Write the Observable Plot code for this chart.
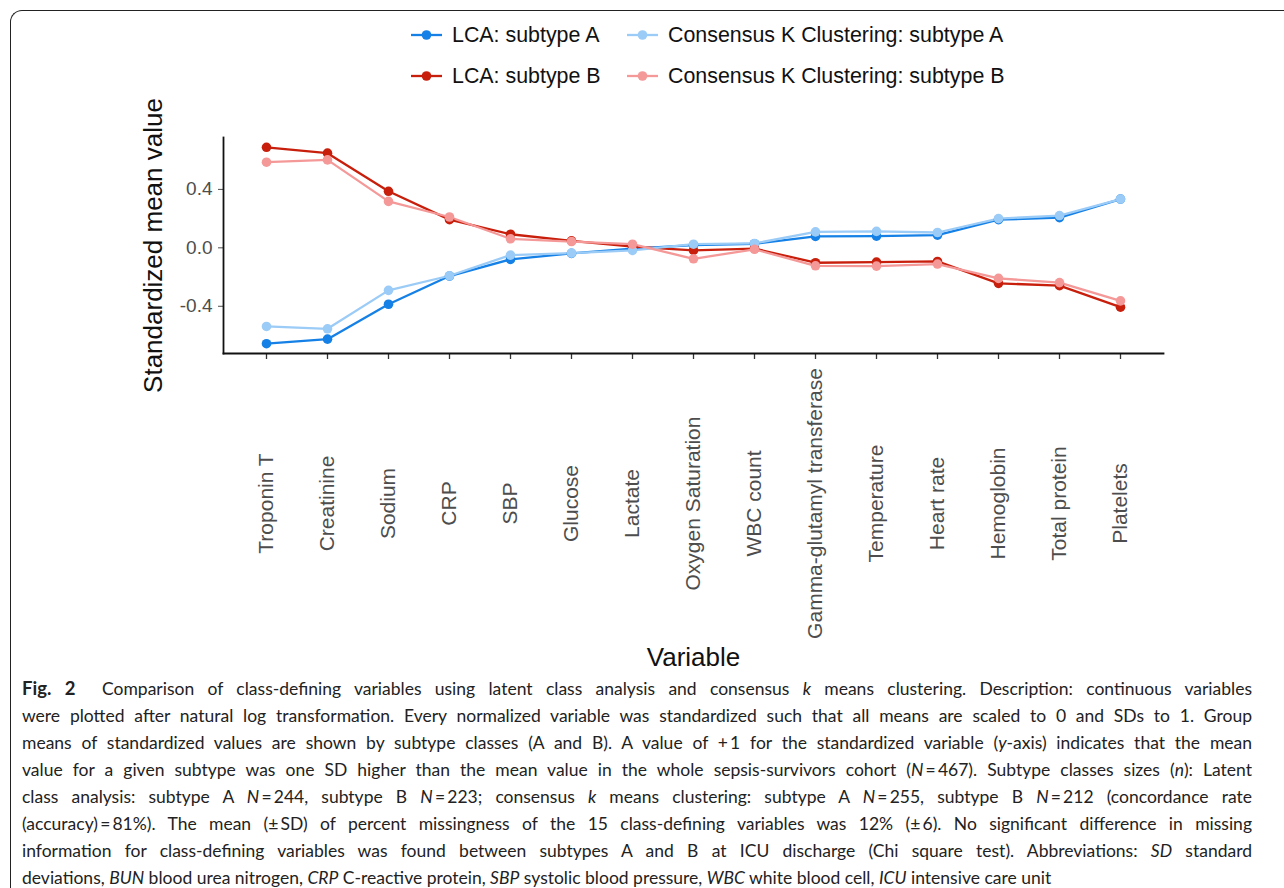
<!DOCTYPE html>
<html>
<head>
<meta charset="utf-8">
<script src="https://cdn.jsdelivr.net/npm/d3@7"></script>
<script src="https://cdn.jsdelivr.net/npm/@observablehq/plot@0.6"></script>
<style>
  html, body { margin: 0; padding: 0; background: #fff; }
  body { width: 1284px; height: 888px; position: relative; overflow: hidden; }
  #frame { position: absolute; left: 10px; top: 10px; width: 1400px; height: 1000px;
           border-left: 1.6px solid #222; border-top: 1.6px solid #222; border-top-left-radius: 12px; }
  #legend { position: absolute; left: 0; top: 0; width: 1284px; height: 100px;
            font-family: "Liberation Sans", Arial, sans-serif; font-size: 21.4px; color: #111; }
  .litem { position: absolute; display: flex; align-items: center; height: 26px; white-space: nowrap; }
  .litem svg { margin-right: 10px; }
  #chart { position: absolute; left: 0; top: 100px; }
  #caption { position: absolute; left: 22px; top: 675px; width: 1230px;
             font-family: Lato, "Open Sans", sans-serif; font-size: 17.5px; color: #222; }
  #caption div { height: 27px; line-height: 27px; text-align: justify; text-align-last: justify; white-space: nowrap; }
  #caption div.last { text-align-last: left; }
  #caption b { font-weight: 700; font-size: 18.5px; }
</style>
</head>
<body>
<div id="frame"></div>
<div id="legend"></div>
<div id="chart"></div>
<div id="caption">
  <div><b>Fig. 2</b>&nbsp; Comparison of class-defining variables using latent class analysis and consensus <i>k</i> means clustering. Description: continuous variables</div>
  <div>were plotted after natural log transformation. Every normalized variable was standardized such that all means are scaled to 0 and SDs to 1. Group</div>
  <div>means of standardized values are shown by subtype classes (A and B). A value of +&#8201;1 for the standardized variable (<i>y</i>-axis) indicates that the mean</div>
  <div>value for a given subtype was one SD higher than the mean value in the whole sepsis-survivors cohort (<i>N</i>&#8201;=&#8201;467). Subtype classes sizes (<i>n</i>): Latent</div>
  <div>class analysis: subtype A <i>N</i>&#8201;=&#8201;244, subtype B <i>N</i>&#8201;=&#8201;223; consensus <i>k</i> means clustering: subtype A <i>N</i>&#8201;=&#8201;255, subtype B <i>N</i>&#8201;=&#8201;212 (concordance rate</div>
  <div>(accuracy)&#8201;=&#8201;81%). The mean (&plusmn;&#8201;SD) of percent missingness of the 15 class-defining variables was 12% (&plusmn;&#8201;6). No significant difference in missing</div>
  <div>information for class-defining variables was found between subtypes A and B at ICU discharge (Chi square test). Abbreviations: <i>SD</i> standard</div>
  <div class="last">deviations, <i>BUN</i> blood urea nitrogen, <i>CRP</i> C-reactive protein, <i>SBP</i> systolic blood pressure, <i>WBC</i> white blood cell, <i>ICU</i> intensive care unit</div>
</div>
<script>
// ---- data ----
const variables = ["Troponin T", "Creatinine", "Sodium", "CRP", "SBP", "Glucose", "Lactate",
  "Oxygen Saturation", "WBC count", "Gamma-glutamyl transferase", "Temperature", "Heart rate",
  "Hemoglobin", "Total protein", "Platelets"];
const seriesNames = ["LCA: subtype A", "LCA: subtype B",
  "Consensus K Clustering: subtype A", "Consensus K Clustering: subtype B"];
const seriesColors = ["#1580e6", "#c81f0c", "#9bcbf7", "#f59898"];
const lcaA  = [-0.656, -0.625, -0.386, -0.193, -0.079, -0.038, -0.005, 0.018, 0.028, 0.078, 0.080, 0.087, 0.193, 0.207, 0.334];
const lcaB  = [0.688, 0.648, 0.387, 0.193, 0.093, 0.048, 0.008, -0.018, -0.005, -0.102, -0.098, -0.093, -0.243, -0.259, -0.406];
const consA = [-0.538, -0.554, -0.291, -0.191, -0.050, -0.036, -0.018, 0.025, 0.030, 0.109, 0.113, 0.105, 0.200, 0.221, 0.334];
const consB = [0.586, 0.602, 0.318, 0.211, 0.062, 0.043, 0.025, -0.075, -0.010, -0.123, -0.125, -0.111, -0.209, -0.238, -0.363];
const yTicks = [-0.4, 0.0, 0.4];
const xTitle = "Variable";
const yTitle = "Standardized mean value";

const seriesValues = [lcaA, lcaB, consA, consB];
const data = [];
seriesNames.forEach((s, i) => {
  variables.forEach((v, j) => data.push({series: s, variable: v, value: seriesValues[i][j]}));
});

// ggplot-like 5% expansion of the y range
const ext = d3.extent(data, d => d.value);
const pad = (ext[1] - ext[0]) * 0.05;
const yDomain = [ext[0] - pad, ext[1] + pad];

// ---- legend ----
const legend = document.getElementById("legend");
const legendPos = [[411, 22], [411, 63], [627, 22], [627, 63]];
seriesNames.forEach((s, i) => {
  const item = document.createElement("div");
  item.className = "litem";
  item.style.left = legendPos[i][0] + "px";
  item.style.top = legendPos[i][1] + "px";
  item.innerHTML = `<svg width="31" height="14"><line x1="0" x2="31" y1="7" y2="7" stroke="${seriesColors[i]}" stroke-width="2.3"/><circle cx="15.5" cy="7" r="4.8" fill="${seriesColors[i]}"/></svg><span>${s}</span>`;
  legend.appendChild(item);
});

// ---- chart ----
const chart = Plot.plot({
  width: 1284,
  height: 580,
  marginTop: 37,
  marginBottom: 327,
  marginLeft: 223,
  marginRight: 121,
  style: {fontFamily: "'Liberation Sans', Arial, sans-serif", background: "transparent", overflow: "visible"},
  x: {type: "point", domain: variables, padding: 0.6},
  y: {domain: yDomain},
  color: {domain: seriesNames, range: seriesColors},
  marks: [
    Plot.axisX({tickSize: 6, tickFormat: () => "", stroke: "#333", strokeWidth: 1.3, label: null}),
    Plot.axisY({ticks: yTicks, tickSize: 5, tickPadding: 6, tickFormat: d => d.toFixed(1),
                fontSize: 19, color: "#4d4d4d", label: null}),
    Plot.frame({anchor: "left", stroke: "#111", strokeWidth: 1.8}),
    Plot.frame({anchor: "bottom", stroke: "#111", strokeWidth: 1.8}),
    Plot.text(variables, {x: d => d, frameAnchor: "bottom", dy: 150, rotate: -90,
                          textAnchor: "middle", lineAnchor: "middle", fontSize: 21, fill: "#4d4d4d"}),
    Plot.text([yTitle], {frameAnchor: "left", dx: -70, rotate: -90, textAnchor: "middle",
                         lineAnchor: "middle", fontSize: 26, fill: "#111"}),
    Plot.text([xTitle], {frameAnchor: "bottom", dy: 304, textAnchor: "middle",
                         lineAnchor: "middle", fontSize: 26, fill: "#111"}),
    Plot.line(data, {x: "variable", y: "value", z: "series", stroke: "series", strokeWidth: 2.3}),
    Plot.dot(data, {x: "variable", y: "value", fill: "series", r: 4.8})
  ]
});
document.getElementById("chart").appendChild(chart);
</script>
</body>
</html>
